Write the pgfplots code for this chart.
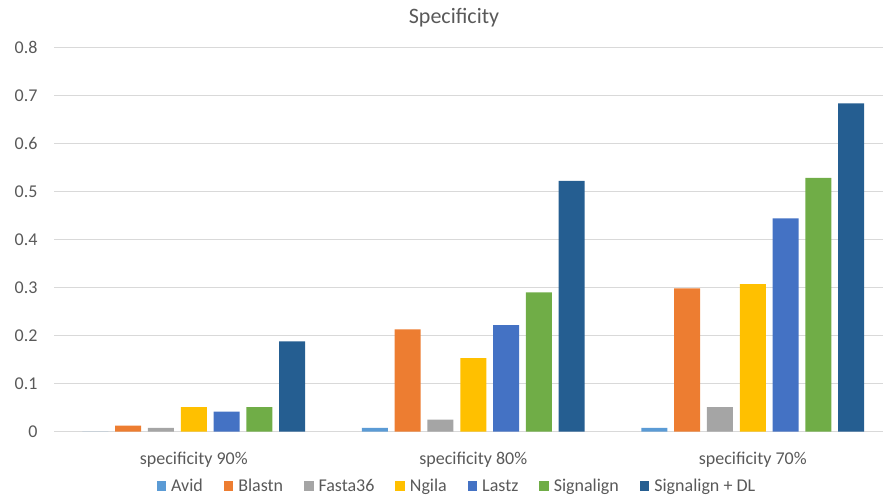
\documentclass[border=0pt]{standalone}
\usepackage{pgfplots}
\pgfplotsset{compat=1.18}
\usepackage{fontspec}
\setmainfont{Carlito}

\definecolor{txt}{HTML}{595959}
\definecolor{gridc}{HTML}{D9D9D9}
\definecolor{cAvid}{HTML}{5B9BD5}
\definecolor{cBlastn}{HTML}{ED7D31}
\definecolor{cFasta}{HTML}{A5A5A5}
\definecolor{cNgila}{HTML}{FFC000}
\definecolor{cLastz}{HTML}{4472C4}
\definecolor{cSignal}{HTML}{70AD47}
\definecolor{cSigDL}{HTML}{255E91}

\begin{document}
\begin{tikzpicture}
\path[use as bounding box] (0,0) rectangle (883bp,502bp);
\node[text=txt, font=\fontsize{22bp}{26bp}\selectfont] at (454bp,484bp) {Specificity};
\begin{axis}[
  at={(54bp,70.3bp)}, anchor=south west,
  scale only axis,
  width=829bp, height=384.5bp,
  xmin=-0.5, xmax=2.466,
  ymin=0, ymax=0.8,
  ytick={0,0.1,...,0.8},
  yticklabel style={/pgf/number format/fixed, /pgf/number format/precision=1},
  /pgf/number format/assume math mode=true,
  xtick={0,1,2},
  xticklabels={specificity 90\%, specificity 80\%, specificity 70\%},
  ticklabel style={text=txt, font=\fontsize{18bp}{21bp}\selectfont},
  xticklabel style={yshift=-17bp},
  yticklabel style={xshift=-13bp},
  major tick length=0pt,
  axis line style={draw=none},
  ymajorgrids,
  grid style={draw=gridc, line width=1bp},
  ybar=6.8bp,
  bar width=26bp,
  legend columns=7,
  legend style={
    at={(axis description cs:0.4861,-0.1412)}, anchor=center,
    draw=none, fill=none,
    font=\fontsize{18bp}{21bp}\selectfont, text=txt,
    /tikz/every odd column/.append style={column sep=3bp},
    /tikz/every even column/.append style={column sep=19bp},
  },
  legend image code/.code={\fill[#1] (0bp,-4.7bp) rectangle (9.4bp,4.7bp);},
]
\addplot[fill=cAvid, draw=none] coordinates {(0,0) (1,0.008) (2,0.008)};
\addplot[fill=cBlastn, draw=none] coordinates {(0,0.0125) (1,0.213) (2,0.298)};
\addplot[fill=cFasta, draw=none] coordinates {(0,0.008) (1,0.025) (2,0.051)};
\addplot[fill=cNgila, draw=none] coordinates {(0,0.051) (1,0.153) (2,0.307)};
\addplot[fill=cLastz, draw=none] coordinates {(0,0.042) (1,0.222) (2,0.444)};
\addplot[fill=cSignal, draw=none] coordinates {(0,0.051) (1,0.290) (2,0.528)};
\addplot[fill=cSigDL, draw=none] coordinates {(0,0.188) (1,0.522) (2,0.683)};
\legend{Avid, Blastn, Fasta36, Ngila, Lastz, Signalign, Signalign + DL}
\end{axis}
\end{tikzpicture}
\end{document}
